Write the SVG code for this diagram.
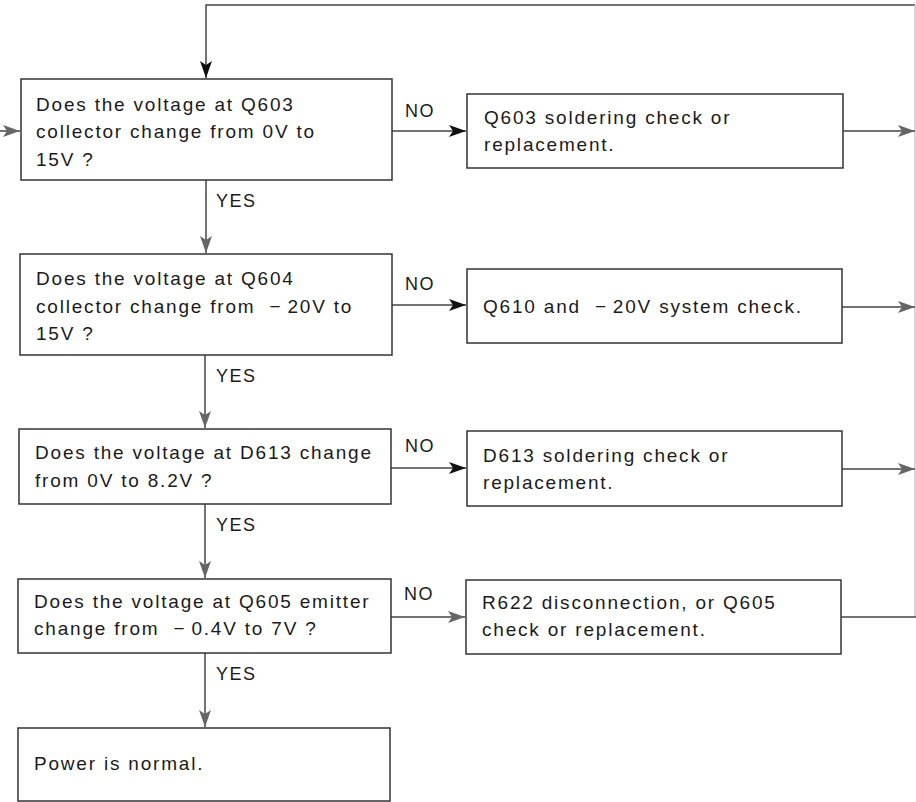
<svg xmlns="http://www.w3.org/2000/svg" width="916" height="802" viewBox="0 0 916 802">
<defs>
<style>
.box{fill:#fff;stroke:#333;stroke-width:1.5}
.ln{fill:none;stroke:#444;stroke-width:1.5}
.t{font-family:"Liberation Sans",Arial,sans-serif;font-size:19px;fill:#1a1a1a;letter-spacing:1.8px}
.lb{font-family:"Liberation Sans",Arial,sans-serif;font-size:18px;fill:#1a1a1a;letter-spacing:1.5px}
</style>
<marker id="ab" markerUnits="userSpaceOnUse" markerWidth="18" markerHeight="12" viewBox="0 0 18 12" refX="17" refY="6" orient="auto">
<path d="M0,0 L17,6 L0,12 L4,6 Z" fill="#111"/>
</marker>
<marker id="ag" markerUnits="userSpaceOnUse" markerWidth="18" markerHeight="12" viewBox="0 0 18 12" refX="17" refY="6" orient="auto">
<path d="M0,0 L17,6 L0,12 L4,6 Z" fill="#666"/>
</marker>
</defs>
<g id="connectors">
<polyline class="ln" points="915,5 206,5 206,78" marker-end="url(#ab)"/>
<line x1="915" y1="5" x2="915" y2="617" stroke="#c8c8c8" stroke-width="1.5"/>
<line class="ln" x1="0" y1="131" x2="20" y2="131" marker-end="url(#ag)"/>
<line class="ln" x1="392" y1="131" x2="466" y2="131" marker-end="url(#ab)"/>
<line class="ln" x1="843" y1="131" x2="915" y2="131" marker-end="url(#ag)"/>
<line class="ln" x1="206" y1="180" x2="206" y2="253" marker-end="url(#ag)"/>
<line class="ln" x1="392" y1="305" x2="466" y2="305" marker-end="url(#ab)"/>
<line class="ln" x1="842" y1="307" x2="915" y2="307" marker-end="url(#ag)"/>
<line class="ln" x1="205" y1="355" x2="205" y2="428" marker-end="url(#ag)"/>
<line class="ln" x1="391" y1="468" x2="466" y2="468" marker-end="url(#ab)"/>
<line class="ln" x1="842" y1="469" x2="915" y2="469" marker-end="url(#ag)"/>
<line class="ln" x1="205" y1="504" x2="205" y2="578" marker-end="url(#ag)"/>
<line class="ln" x1="391" y1="617" x2="465" y2="617" marker-end="url(#ag)"/>
<line class="ln" x1="841" y1="617" x2="916" y2="617"/>
<line class="ln" x1="205" y1="653" x2="205" y2="727" marker-end="url(#ag)"/>
<text class="lb" x="405" y="117">NO</text>
<text class="lb" x="216" y="207">YES</text>
<text class="lb" x="405" y="290">NO</text>
<text class="lb" x="216" y="382">YES</text>
<text class="lb" x="405" y="452">NO</text>
<text class="lb" x="216" y="531">YES</text>
<text class="lb" x="404" y="600">NO</text>
<text class="lb" x="216" y="680">YES</text>
</g>
<g id="q1">
<rect class="box" x="21" y="79" width="371" height="101"/>
<text class="t" x="36" y="111">Does the voltage at Q603</text>
<text class="t" x="36" y="138">collector change from 0V to</text>
<text class="t" x="36" y="166">15V ?</text>
</g>
<g id="a1">
<rect class="box" x="467" y="94" width="376" height="74"/>
<text class="t" x="484" y="124">Q603 soldering check or</text>
<text class="t" x="484" y="151">replacement.</text>
</g>
<g id="q2">
<rect class="box" x="20" y="254" width="372" height="101"/>
<text class="t" x="36" y="285">Does the voltage at Q604</text>
<text class="t" x="36" y="313">collector change from <tspan dx="7">−</tspan><tspan dx="5">20V to</tspan></text>
<text class="t" x="36" y="340">15V ?</text>
</g>
<g id="a2">
<rect class="box" x="467" y="269" width="375" height="74"/>
<text class="t" x="483" y="313">Q610 and <tspan dx="7">−</tspan><tspan dx="5">20V system check.</tspan></text>
</g>
<g id="q3">
<rect class="box" x="19" y="429" width="372" height="75"/>
<text class="t" x="35" y="459">Does the voltage at D613 change</text>
<text class="t" x="35" y="487">from 0V to 8.2V ?</text>
</g>
<g id="a3">
<rect class="box" x="467" y="431" width="375" height="75"/>
<text class="t" x="483" y="462">D613 soldering check or</text>
<text class="t" x="483" y="489">replacement.</text>
</g>
<g id="q4">
<rect class="box" x="18" y="579" width="373" height="74"/>
<text class="t" x="34" y="608">Does the voltage at Q605 emitter</text>
<text class="t" x="34" y="635">change from <tspan dx="7">−</tspan><tspan dx="5">0.4V to 7V ?</tspan></text>
</g>
<g id="a4">
<rect class="box" x="466" y="580" width="375" height="74"/>
<text class="t" x="482" y="609">R622 disconnection, or Q605</text>
<text class="t" x="482" y="636">check or replacement.</text>
</g>
<g id="end">
<rect class="box" x="18" y="728" width="372" height="73"/>
<text class="t" x="34" y="770">Power is normal.</text>
</g>
</svg>
